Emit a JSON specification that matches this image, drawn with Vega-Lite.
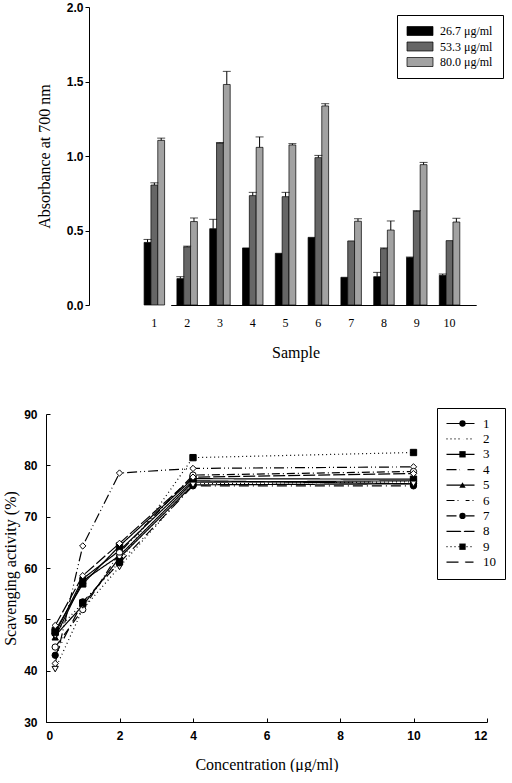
{
  "$schema": "https://vega.github.io/schema/vega-lite/v6.json",
  "background": "white",
  "padding": {"left": 2, "top": 1, "right": 0, "bottom": 0},
  "config": {
    "view": {"stroke": null},
    "axis": {"grid": false, "domainColor": "black", "tickColor": "black", "labelColor": "black", "titleColor": "black", "domainWidth": 1, "tickWidth": 1},
    "legend": {"labelColor": "black"}
  },
  "spacing": 47,
  "resolve": {
    "scale": {"fill": "independent", "shape": "independent", "strokeDash": "independent"},
    "legend": {"fill": "independent", "shape": "independent", "strokeDash": "independent"}
  },
  "vconcat": [
    {
      "width": 456,
      "height": 298,
      "data": {
        "values": [
          {"sample": 1, "conc": "26.7 μg/ml", "value": 0.42, "upper": 0.44},
          {"sample": 1, "conc": "53.3 μg/ml", "value": 0.805, "upper": 0.82},
          {"sample": 1, "conc": "80.0 μg/ml", "value": 1.105, "upper": 1.12},
          {"sample": 2, "conc": "26.7 μg/ml", "value": 0.177, "upper": 0.19},
          {"sample": 2, "conc": "53.3 μg/ml", "value": 0.39, "upper": 0.395},
          {"sample": 2, "conc": "80.0 μg/ml", "value": 0.56, "upper": 0.584},
          {"sample": 3, "conc": "26.7 μg/ml", "value": 0.512, "upper": 0.575},
          {"sample": 3, "conc": "53.3 μg/ml", "value": 1.087, "upper": 1.09},
          {"sample": 3, "conc": "80.0 μg/ml", "value": 1.48, "upper": 1.568},
          {"sample": 4, "conc": "26.7 μg/ml", "value": 0.383, "upper": null},
          {"sample": 4, "conc": "53.3 μg/ml", "value": 0.734, "upper": 0.756},
          {"sample": 4, "conc": "80.0 μg/ml", "value": 1.058, "upper": 1.128},
          {"sample": 5, "conc": "26.7 μg/ml", "value": 0.347, "upper": null},
          {"sample": 5, "conc": "53.3 μg/ml", "value": 0.727, "upper": 0.756},
          {"sample": 5, "conc": "80.0 μg/ml", "value": 1.074, "upper": 1.083},
          {"sample": 6, "conc": "26.7 μg/ml", "value": 0.454, "upper": null},
          {"sample": 6, "conc": "53.3 μg/ml", "value": 0.989, "upper": 1.004},
          {"sample": 6, "conc": "80.0 μg/ml", "value": 1.336, "upper": 1.351},
          {"sample": 7, "conc": "26.7 μg/ml", "value": 0.186, "upper": null},
          {"sample": 7, "conc": "53.3 μg/ml", "value": 0.43, "upper": null},
          {"sample": 7, "conc": "80.0 μg/ml", "value": 0.562, "upper": 0.579},
          {"sample": 8, "conc": "26.7 μg/ml", "value": 0.19, "upper": 0.219},
          {"sample": 8, "conc": "53.3 μg/ml", "value": 0.378, "upper": 0.383},
          {"sample": 8, "conc": "80.0 μg/ml", "value": 0.503, "upper": 0.564},
          {"sample": 9, "conc": "26.7 μg/ml", "value": 0.318, "upper": 0.322},
          {"sample": 9, "conc": "53.3 μg/ml", "value": 0.629, "upper": 0.633},
          {"sample": 9, "conc": "80.0 μg/ml", "value": 0.942, "upper": 0.957},
          {"sample": 10, "conc": "26.7 μg/ml", "value": 0.199, "upper": 0.208},
          {"sample": 10, "conc": "53.3 μg/ml", "value": 0.432, "upper": null},
          {"sample": 10, "conc": "80.0 μg/ml", "value": 0.557, "upper": 0.582}
        ]
      },
      "encoding": {
        "x": {
          "field": "sample",
          "type": "ordinal",
          "scale": {"range": [81.7, 430.2], "paddingInner": 0.375, "paddingOuter": 0.5},
          "axis": {
            "title": "Sample",
            "titleFont": "Liberation Serif",
            "titleFontSize": 16,
            "titleFontWeight": "normal",
            "titlePadding": 16,
            "titleX": 249.5,
            "labelFont": "Liberation Serif",
            "labelFontSize": 12,
            "labelAngle": 0,
            "labelPadding": 12,
            "ticks": false,
            "domainDash": [413, 43],
            "domainDashOffset": 413
          }
        },
        "xOffset": {
          "field": "conc",
          "type": "nominal",
          "scale": {"domain": ["26.7 μg/ml", "53.3 μg/ml", "80.0 μg/ml"], "paddingInner": 0, "paddingOuter": 0}
        }
      },
      "layer": [
        {
          "mark": {"type": "bar", "stroke": "black", "strokeWidth": 0.7},
          "encoding": {
            "y": {
              "field": "value",
              "type": "quantitative",
              "scale": {"domain": [0, 2]},
              "axis": {
                "title": "Absorbance at 700 nm",
                "titleFont": "Liberation Serif",
                "titleFontSize": 16,
                "titleFontWeight": "normal",
                "titlePadding": 14,
                "offset": -43,
                "values": [0, 0.5, 1, 1.5, 2],
                "format": ".1f",
                "labelFont": "Liberation Sans",
                "labelFontWeight": "bold",
                "labelFontSize": 12,
                "tickSize": 4,
                "labelPadding": 2
              }
            },
            "fill": {
              "field": "conc",
              "type": "nominal",
              "scale": {"domain": ["26.7 μg/ml", "53.3 μg/ml", "80.0 μg/ml"], "range": ["#000000", "#666666", "#a2a2a2"]},
              "legend": {
                "title": null,
                "orient": "none",
                "legendX": 351,
                "legendY": 8,
                "padding": 10,
                "strokeColor": "black",
                "symbolType": "M-2.6,-0.9H2.6V0.9H-2.6Z",
                "symbolSize": 100,
                "symbolOffset": 7,
                "symbolStrokeColor": "black",
                "symbolStrokeWidth": 0.7,
                "labelFont": "Liberation Serif",
                "labelFontSize": 12,
                "labelOffset": 14,
                "rowPadding": 3.5
              }
            }
          }
        },
        {
          "mark": {"type": "rule", "color": "black", "strokeWidth": 1},
          "encoding": {
            "y": {"field": "upper", "type": "quantitative"},
            "y2": {"field": "value"}
          }
        },
        {
          "mark": {"type": "tick", "color": "black", "thickness": 1, "size": 8, "orient": "horizontal"},
          "encoding": {
            "y": {"field": "upper", "type": "quantitative"}
          }
        }
      ]
    },
    {
      "width": 441,
      "height": 308,
      "data": {
        "values": [
          {"sample": 1, "conc": 0.25, "activity": 47.2},
          {"sample": 1, "conc": 1, "activity": 57.9},
          {"sample": 1, "conc": 2, "activity": 63.4},
          {"sample": 1, "conc": 4, "activity": 77.0},
          {"sample": 1, "conc": 10, "activity": 76.4},
          {"sample": 2, "conc": 0.25, "activity": 40.3},
          {"sample": 2, "conc": 1, "activity": 52.0},
          {"sample": 2, "conc": 2, "activity": 60.2},
          {"sample": 2, "conc": 4, "activity": 76.4},
          {"sample": 2, "conc": 10, "activity": 76.8},
          {"sample": 3, "conc": 0.25, "activity": 47.8},
          {"sample": 3, "conc": 1, "activity": 56.9},
          {"sample": 3, "conc": 2, "activity": 64.3},
          {"sample": 3, "conc": 4, "activity": 77.4},
          {"sample": 3, "conc": 10, "activity": 77.3},
          {"sample": 4, "conc": 0.25, "activity": 41.4},
          {"sample": 4, "conc": 1, "activity": 64.3},
          {"sample": 4, "conc": 2, "activity": 78.5},
          {"sample": 4, "conc": 4, "activity": 79.4},
          {"sample": 4, "conc": 10, "activity": 79.7},
          {"sample": 5, "conc": 0.25, "activity": 46.5},
          {"sample": 5, "conc": 1, "activity": 57.5},
          {"sample": 5, "conc": 2, "activity": 62.4},
          {"sample": 5, "conc": 4, "activity": 76.7},
          {"sample": 5, "conc": 10, "activity": 77.0},
          {"sample": 6, "conc": 0.25, "activity": 44.6},
          {"sample": 6, "conc": 1, "activity": 51.9},
          {"sample": 6, "conc": 2, "activity": 63.0},
          {"sample": 6, "conc": 4, "activity": 78.1},
          {"sample": 6, "conc": 10, "activity": 78.8},
          {"sample": 7, "conc": 0.25, "activity": 43.0},
          {"sample": 7, "conc": 1, "activity": 53.4},
          {"sample": 7, "conc": 2, "activity": 61.0},
          {"sample": 7, "conc": 4, "activity": 76.0},
          {"sample": 7, "conc": 10, "activity": 76.0},
          {"sample": 8, "conc": 0.25, "activity": 46.8},
          {"sample": 8, "conc": 1, "activity": 52.7},
          {"sample": 8, "conc": 2, "activity": 62.0},
          {"sample": 8, "conc": 4, "activity": 76.2},
          {"sample": 8, "conc": 10, "activity": 76.4},
          {"sample": 9, "conc": 0.25, "activity": 47.5},
          {"sample": 9, "conc": 1, "activity": 53.2},
          {"sample": 9, "conc": 2, "activity": 61.2},
          {"sample": 9, "conc": 4, "activity": 81.5},
          {"sample": 9, "conc": 10, "activity": 82.5},
          {"sample": 10, "conc": 0.25, "activity": 48.8},
          {"sample": 10, "conc": 1, "activity": 58.5},
          {"sample": 10, "conc": 2, "activity": 64.8},
          {"sample": 10, "conc": 4, "activity": 77.7},
          {"sample": 10, "conc": 10, "activity": 78.4}
        ]
      },
      "encoding": {
        "x": {
          "field": "conc",
          "type": "quantitative",
          "scale": {"domain": [0, 12]},
          "axis": {
            "title": "Concentration (μg/ml)",
            "titleFont": "Liberation Serif",
            "titleFontSize": 16,
            "titleFontWeight": "normal",
            "titlePadding": 15,
            "values": [0, 2, 4, 6, 8, 10, 12],
            "labelFont": "Liberation Sans",
            "labelFontWeight": "bold",
            "labelFontSize": 12,
            "tickSize": -4,
            "labelPadding": 12
          }
        },
        "y": {
          "field": "activity",
          "type": "quantitative",
          "scale": {"domain": [30, 90]},
          "axis": {
            "title": "Scavenging activity (%)",
            "titleFont": "Liberation Serif",
            "titleFontSize": 16,
            "titleFontWeight": "normal",
            "titlePadding": 5,
            "values": [30, 40, 50, 60, 70, 80, 90],
            "labelFont": "Liberation Sans",
            "labelFontWeight": "bold",
            "labelFontSize": 12,
            "tickSize": -4,
            "labelPadding": 13
          }
        }
      },
      "layer": [
        {
          "mark": {"type": "line", "color": "black", "strokeWidth": 1.2},
          "encoding": {
            "strokeDash": {
              "field": "sample",
              "type": "nominal",
              "scale": {
                "domain": [1, 2, 3, 4, 5, 6, 7, 8, 9, 10],
                "range": [[1, 0], [1, 3], [1, 0], [10, 3, 1, 3, 1, 3], [1, 0], [8, 3, 1, 3], [10, 4, 1, 4], [1, 0], [1, 3], [12, 3]]
              },
              "legend": {
                "title": null,
                "orient": "none",
                "legendX": 391,
                "legendY": -6,
                "padding": 9,
                "strokeColor": "black",
                "symbolType": "M-2.8,0H2.8",
                "symbolSize": 100,
                "symbolOffset": 8,
                "symbolStrokeColor": "black",
                "symbolStrokeWidth": 1.2,
                "labelFont": "Liberation Serif",
                "labelFontSize": 13,
                "labelOffset": 16,
                "rowPadding": 1.4
              }
            }
          }
        },
        {
          "mark": {"type": "point", "stroke": "black", "strokeWidth": 1, "size": 40, "opacity": 1},
          "encoding": {
            "shape": {
              "field": "sample",
              "type": "nominal",
              "scale": {
                "domain": [1, 2, 3, 4, 5, 6, 7, 8, 9, 10],
                "range": ["circle", "triangle-down", "square", "diamond", "triangle-up", "circle", "circle", "triangle-down", "square", "diamond"]
              },
              "legend": {
                "title": null,
                "orient": "none",
                "legendX": 401,
                "legendY": -6,
                "padding": 9,
                "symbolSize": 40,
                "symbolStrokeColor": "black",
                "symbolStrokeWidth": 1,
                "labelFont": "Liberation Serif",
                "labelFontSize": 13,
                "labelExpr": "''",
                "rowPadding": 1.4
              }
            },
            "fill": {
              "field": "sample",
              "type": "nominal",
              "scale": {
                "domain": [1, 2, 3, 4, 5, 6, 7, 8, 9, 10],
                "range": ["black", "white", "black", "white", "black", "white", "black", "white", "black", "white"]
              },
              "legend": {
                "title": null,
                "orient": "none",
                "legendX": 401,
                "legendY": -6,
                "padding": 9,
                "symbolSize": 40,
                "symbolStrokeColor": "black",
                "symbolStrokeWidth": 1,
                "labelFont": "Liberation Serif",
                "labelFontSize": 13,
                "labelExpr": "''",
                "rowPadding": 1.4
              }
            }
          }
        }
      ],
      "resolve": {"legend": {"shape": "independent", "fill": "independent"}}
    }
  ]
}
